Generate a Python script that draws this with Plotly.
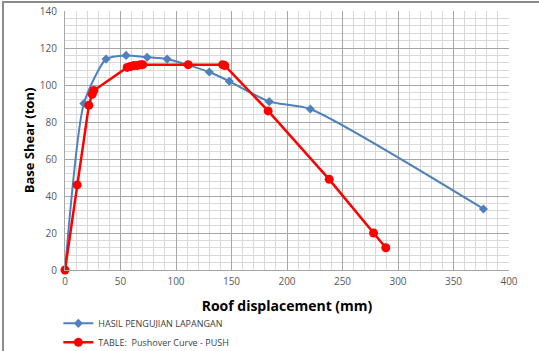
import plotly.graph_objects as go

blue_x = [0, 17, 37, 55, 74, 92, 130, 148, 184, 221, 377]
blue_y = [0, 90, 114, 116, 115, 114, 107, 102, 91, 87, 33]
blue_name = "HASIL PENGUJIAN LAPANGAN"

red_x = [0, 11, 21.5, 24.5, 26, 56, 59, 62, 65, 68, 70, 111, 142, 144, 183, 238, 278, 289]
red_y = [0, 46, 89, 95, 97, 109.5, 110, 110.5, 110.5, 111, 111, 111, 111, 110.5, 86, 49, 20, 12]
red_name = "TABLE:  Pushover Curve - PUSH"

x_title = "Roof displacement (mm)"
y_title = "Base Shear (ton)"

fig = go.Figure()
fig.add_trace(go.Scatter(
    x=blue_x, y=blue_y, name=blue_name, mode="lines+markers", cliponaxis=False,
    line=dict(color="#4F81BD", width=2, shape="spline", smoothing=0.6),
    marker=dict(symbol="diamond", size=7, color="#4F81BD"),
))
fig.add_trace(go.Scatter(
    x=red_x, y=red_y, name=red_name, mode="lines+markers", cliponaxis=False,
    line=dict(color="#FF0000", width=2.5),
    marker=dict(symbol="circle", size=9, color="#FF0000"),
))

tickfont = dict(family="Open Sans, Liberation Sans, sans-serif", size=10, color="#595959")
fig.update_layout(
    width=539, height=351,
    margin=dict(l=65, r=30, t=11, b=81, autoexpand=False),
    paper_bgcolor="white", plot_bgcolor="white",
    showlegend=True,
    legend=dict(x=-0.015, y=-0.15, xanchor="left", yanchor="top",
                orientation="v", font=dict(family="Open Sans, Liberation Sans, sans-serif", size=9, color="#404040"),
                tracegroupgap=0, itemwidth=30, bgcolor="rgba(0,0,0,0)"),
    xaxis=dict(range=[0, 400], dtick=50, tick0=0, showgrid=True, gridcolor="#A6A6A6", gridwidth=1,
               minor=dict(dtick=10, showgrid=True, gridcolor="#D9D9D9", gridwidth=1),
               zeroline=False, showline=True, linecolor="#A6A6A6", ticks="", tickfont=tickfont,
               automargin=False, ticklabelstandoff=2,
               title=dict(text="<b>" + x_title + "</b>", font=dict(family="Open Sans, Liberation Sans, sans-serif", size=14, color="black"), standoff=14)),
    yaxis=dict(range=[0, 140], dtick=20, tick0=0, showgrid=True, gridcolor="#A6A6A6", gridwidth=1,
               minor=dict(dtick=4, showgrid=True, gridcolor="#D9D9D9", gridwidth=1),
               zeroline=False, showline=True, linecolor="#A6A6A6", ticks="", tickfont=tickfont,
               automargin=False, ticklabelstandoff=5,
               title=dict(text="<b>" + y_title + "</b>", font=dict(family="Open Sans, Liberation Sans, sans-serif", size=13, color="black"), standoff=2)),
)

post = (
    "document.body.style.margin='0';document.body.style.overflow='hidden';"
    "var b=document.createElement('div');"
    "b.style.cssText='position:absolute;left:2px;top:1px;width:700px;height:500px;"
    "border-left:2px solid #8C8C8C;border-top:2px solid #8C8C8C;pointer-events:none;';"
    "document.body.appendChild(b);"
)
fig.write_html("out.html", config={"displayModeBar": False}, post_script=post)
